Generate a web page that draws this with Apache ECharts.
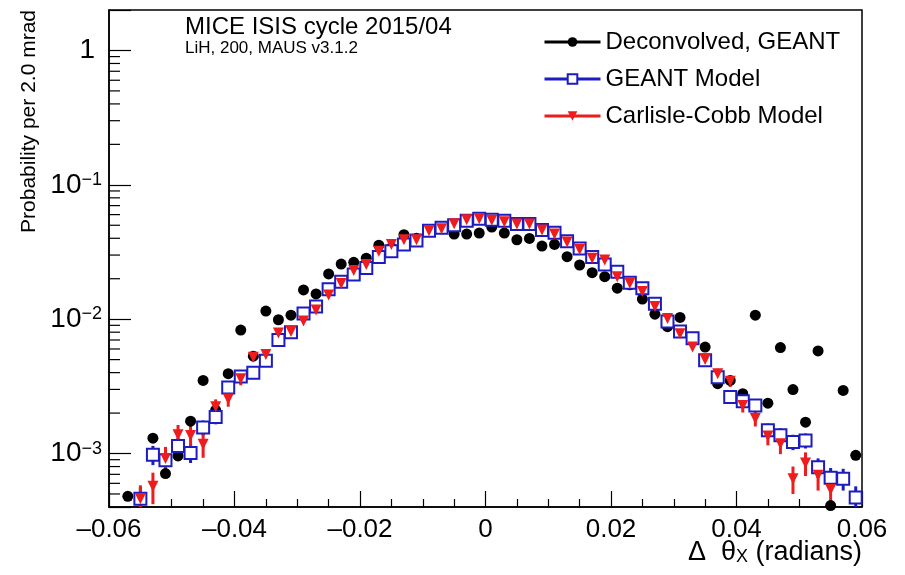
<!DOCTYPE html>
<html>
<head>
<meta charset="utf-8">
<script src="https://cdn.jsdelivr.net/npm/echarts@6/dist/echarts.min.js"></script>
<style>
  html, body { margin: 0; padding: 0; background: #fff; }
  #chart { width: 905px; height: 575px; }
</style>
</head>
<body>
<div id="chart"></div>
<script>
var font = 'Liberation Sans';

// bin centres (radians), 2 mrad bins
var binCenters = [
  -0.059, -0.057, -0.055, -0.053, -0.051, -0.049, -0.047, -0.045, -0.043, -0.041,
  -0.039, -0.037, -0.035, -0.033, -0.031, -0.029, -0.027, -0.025, -0.023, -0.021,
  -0.019, -0.017, -0.015, -0.013, -0.011, -0.009, -0.007, -0.005, -0.003, -0.001,
  0.001, 0.003, 0.005, 0.007, 0.009, 0.011, 0.013, 0.015, 0.017, 0.019,
  0.021, 0.023, 0.025, 0.027, 0.029, 0.031, 0.033, 0.035, 0.037, 0.039,
  0.041, 0.043, 0.045, 0.047, 0.049, 0.051, 0.053, 0.055, 0.057, 0.059
];

var deconvolved = [
  null, 4.8e-4, null, 1.3e-3, 7.1e-4, 9.6e-4, 1.74e-3, 3.5e-3, 2.1e-3, 3.93e-3,
  8.3e-3, 5.3e-3, 1.15e-2, 9.9e-3, 1.07e-2, 1.65e-2, 1.54e-2, 2.17e-2, 2.57e-2, 2.65e-2,
  2.84e-2, 3.55e-2, 3.4e-2, 4.25e-2, 4.0e-2, 4.5e-2, 4.7e-2, 4.3e-2, 4.3e-2, 4.37e-2,
  4.85e-2, 4.37e-2, 3.9e-2, 3.99e-2, 3.5e-2, 3.6e-2, 2.92e-2, 2.53e-2, 2.22e-2, 2.07e-2,
  1.7e-2, 1.8e-2, 1.41e-2, 1.09e-2, 8.8e-3, 1.03e-2, 7.0e-3, 6.2e-3, 3.31e-3, 3.5e-3,
  2.79e-3, 1.07e-2, 2.37e-3, 6.15e-3, 2.99e-3, 1.71e-3, 5.8e-3, 4.1e-4, 2.95e-3, 9.7e-4
];

var geantModel = [
  null, null, 4.6e-4, 9.8e-4, 8.9e-4, 1.14e-3, 1.01e-3, 1.56e-3, 1.87e-3, 3.1e-3,
  3.75e-3, 4.0e-3, 4.9e-3, 7.0e-3, 8.0e-3, 1.10e-2, 1.24e-2, 1.67e-2, 1.9e-2, 2.15e-2,
  2.4e-2, 2.9e-2, 3.2e-2, 3.6e-2, 3.85e-2, 4.55e-2, 4.8e-2, 5.0e-2, 5.4e-2, 5.6e-2,
  5.5e-2, 5.4e-2, 5.1e-2, 5.1e-2, 4.6e-2, 4.4e-2, 3.8e-2, 3.35e-2, 2.9e-2, 2.55e-2,
  2.25e-2, 1.87e-2, 1.7e-2, 1.3e-2, 9.6e-3, 8.1e-3, 7.2e-3, 4.95e-3, 3.7e-3, 2.63e-3,
  2.45e-3, 2.28e-3, 1.49e-3, 1.37e-3, 1.22e-3, 1.25e-3, 7.9e-4, 6.6e-4, 6.5e-4, 4.7e-4
];

var carlisleCobb = [
  null, null, 4.6e-4, 5.7e-4, 9.2e-4, 1.38e-3, 1.36e-3, 1.17e-3, 2.23e-3, 2.55e-3,
  3.6e-3, 5.2e-3, 5.45e-3, 7.9e-3, 8.1e-3, 9.7e-3, 1.17e-2, 1.51e-2, 1.84e-2, 2.3e-2,
  2.55e-2, 3.2e-2, 3.6e-2, 3.9e-2, 3.9e-2, 4.56e-2, 4.7e-2, 5.12e-2, 5.5e-2, 5.6e-2,
  5.45e-2, 5.3e-2, 5.1e-2, 5.1e-2, 4.6e-2, 4.3e-2, 3.76e-2, 3.3e-2, 2.84e-2, 2.76e-2,
  2.07e-2, 1.85e-2, 1.61e-2, 1.24e-2, 1.01e-2, 7.8e-3, 6.2e-3, 5.0e-3, 3.93e-3, 3.45e-3,
  2.28e-3, 1.82e-3, 1.35e-3, 1.18e-3, 6.5e-4, 8.5e-4, 6.9e-4, 5.4e-4, null, null
];

// vertical error bars (absolute), only where they show outside the markers
var geantErr = [
  null, null, 1.0e-4, 1.6e-4, 1.5e-4, 1.7e-4, 1.6e-4, 2.0e-4, 2.2e-4, 2.8e-4,
  3.2e-4, null, null, null, null, null, null, null, null, null,
  null, null, null, null, null, null, null, null, null, null,
  null, null, null, null, null, null, null, null, null, null,
  null, null, null, null, null, null, null, null, null, 2.4e-4,
  2.3e-4, 2.2e-4, 1.8e-4, 1.7e-4, 1.6e-4, 1.6e-4, 1.3e-4, 1.2e-4, 1.2e-4, 1.0e-4
];

var carlisleErr = [
  null, null, 1.2e-4, 1.5e-4, 2.0e-4, 2.5e-4, 2.5e-4, 2.4e-4, 3.0e-4, 3.2e-4,
  3.8e-4, null, null, null, null, null, null, null, null, null,
  null, null, null, null, null, null, null, null, null, null,
  null, null, null, null, null, null, null, null, null, null,
  null, null, null, null, null, null, null, null, 3.5e-4, 3.2e-4,
  2.6e-4, 2.3e-4, 2.0e-4, 1.9e-4, 1.5e-4, 1.7e-4, 1.6e-4, 1.4e-4, null, null
];

// log axis minor ticks (2..9 x decade)
var yMinorTicks = [
  5e-4, 6e-4, 7e-4, 8e-4, 9e-4,
  2e-3, 3e-3, 4e-3, 5e-3, 6e-3, 7e-3, 8e-3, 9e-3,
  2e-2, 3e-2, 4e-2, 5e-2, 6e-2, 7e-2, 8e-2, 9e-2,
  2e-1, 3e-1, 4e-1, 5e-1, 6e-1, 7e-1, 8e-1, 9e-1
];

var seriesNames = ['Deconvolved, GEANT', 'GEANT Model', 'Carlisle-Cobb Model'];
var blue = '#1c1cc0';
var red = '#ee1c1c';

function pairs(vals) {
  return binCenters.map(function (x, i) { return [x, vals[i]]; });
}

function errData(vals, errs) {
  var out = [];
  binCenters.forEach(function (x, i) {
    if (vals[i] != null && errs[i] != null) out.push([x, vals[i], errs[i]]);
  });
  return out;
}

function errSeries(vals, errs, color) {
  return {
    type: 'custom', silent: true,
    data: errData(vals, errs),
    renderItem: function (params, api) {
      var v = api.value(1), e = api.value(2);
      var lo = Math.max(v - e, 4e-4);
      var top = api.coord([api.value(0), v + e]);
      var bot = api.coord([api.value(0), lo]);
      return {
        type: 'line',
        shape: { x1: top[0], y1: top[1], x2: bot[0], y2: bot[1] },
        style: { stroke: color, lineWidth: 3 }
      };
    }
  };
}

var chart = echarts.init(document.getElementById('chart'));

var option = {
  animation: false,
  backgroundColor: '#fff',
  textStyle: { fontFamily: font },
  grid: {
    left: 109, right: 43, top: 10, bottom: 68,
    show: true, borderColor: '#000', borderWidth: 1.5
  },
  legend: {
    data: seriesNames,
    orient: 'vertical',
    left: 538, top: 24,
    itemWidth: 56, itemHeight: 12, itemGap: 11,
    textStyle: { fontSize: 24, fontFamily: font, color: '#000', lineHeight: 26 },
    lineStyle: { width: 3, opacity: 1 },
    selectedMode: false
  },
  xAxis: {
    type: 'value',
    min: -0.06, max: 0.06, interval: 0.02,
    axisLine: { onZero: false, lineStyle: { color: '#000', width: 1.5 } },
    axisTick: { inside: true, length: 16, lineStyle: { color: '#000', width: 1.2 } },
    minorTick: { show: true, splitNumber: 4, length: 8, lineStyle: { color: '#000', width: 1.2 } },
    splitLine: { show: false },
    axisLabel: {
      fontSize: 26, fontFamily: font, color: '#000', margin: 10,
      formatter: function (v) {
        if (Math.abs(v) < 1e-9) return '0';
        return v.toFixed(2).replace('-', '\u2013');
      }
    }
  },
  yAxis: {
    type: 'log', logBase: 10,
    min: 4e-4, max: 2,
    axisLine: { onZero: false, lineStyle: { color: '#000', width: 1.5 } },
    axisTick: { inside: true, length: 22, lineStyle: { color: '#000', width: 1.2 } },
    splitLine: { show: false },
    axisLabel: {
      fontSize: 28, fontFamily: font, color: '#000', margin: 7,
      formatter: function (v) {
        var l = Math.log10(v);
        var e = Math.round(l);
        if (Math.abs(l - e) > 1e-6) return '';
        if (e === 0) return '{one|1}';
        return '10{sup|\u2212' + (-e) + '}';
      },
      rich: {
        one: { fontSize: 28, fontFamily: font, color: '#000', padding: [0, 7, 0, 0] },
        sup: { fontSize: 18, fontFamily: font, color: '#000', verticalAlign: 'top', padding: [0, 0, 10, 0] }
      }
    }
  },
  graphic: [
    {
      type: 'text', x: 185, y: 27,
      style: { text: 'MICE ISIS cycle 2015/04', font: '24px "Liberation Sans"', fill: '#000', verticalAlign: 'middle' }
    },
    {
      type: 'text', x: 185, y: 48,
      style: { text: 'LiH, 200, MAUS v3.1.2', font: '17px "Liberation Sans"', fill: '#000', verticalAlign: 'middle' }
    },
    {
      type: 'text', x: 29, y: 10, rotation: Math.PI / 2,
      style: { text: 'Probability per 2.0 mrad', font: '21px "Liberation Sans"', fill: '#000', align: 'right', verticalAlign: 'middle' }
    },
    {
      type: 'text', x: 862, y: 553,
      style: {
        text: '\u0394  \u03b8{sub|X} (radians)',
        font: '27px "Liberation Sans"', fill: '#000', align: 'right', verticalAlign: 'middle',
        rich: { sub: { fontSize: 18, fontFamily: font, fill: '#000', verticalAlign: 'bottom', padding: [8, 0, 0, 0] } }
      }
    }
  ],
  series: [
    {
      name: seriesNames[0], type: 'line', data: pairs(deconvolved),
      symbol: 'circle', symbolSize: 11, showSymbol: true,
      color: '#000',
      itemStyle: { color: '#000' },
      lineStyle: { color: '#000', opacity: 0 },
      emphasis: { disabled: true }
    },
    errSeries(geantModel, geantErr, blue),
    {
      name: seriesNames[1], type: 'line', data: pairs(geantModel),
      symbol: 'emptyRect', symbolSize: 12, showSymbol: true,
      color: blue,
      itemStyle: { color: blue, borderColor: blue, borderWidth: 2 },
      lineStyle: { color: blue, opacity: 0 },
      emphasis: { disabled: true }
    },
    errSeries(carlisleCobb, carlisleErr, red),
    {
      name: seriesNames[2], type: 'line', data: pairs(carlisleCobb),
      symbol: 'triangle', symbolRotate: 180, symbolSize: 11, showSymbol: true,
      color: red,
      itemStyle: { color: red },
      lineStyle: { color: red, opacity: 0 },
      emphasis: { disabled: true }
    },
    {
      name: 'yMinor', type: 'custom', silent: true, clip: false,
      data: yMinorTicks.map(function (v) { return [-0.06, v]; }),
      renderItem: function (params, api) {
        var p = api.coord([api.value(0), api.value(1)]);
        return {
          type: 'line',
          shape: { x1: p[0], y1: p[1], x2: p[0] + 11, y2: p[1] },
          style: { stroke: '#000', lineWidth: 1.2 }
        };
      }
    }
  ]
};

chart.setOption(option);
</script>
</body>
</html>
